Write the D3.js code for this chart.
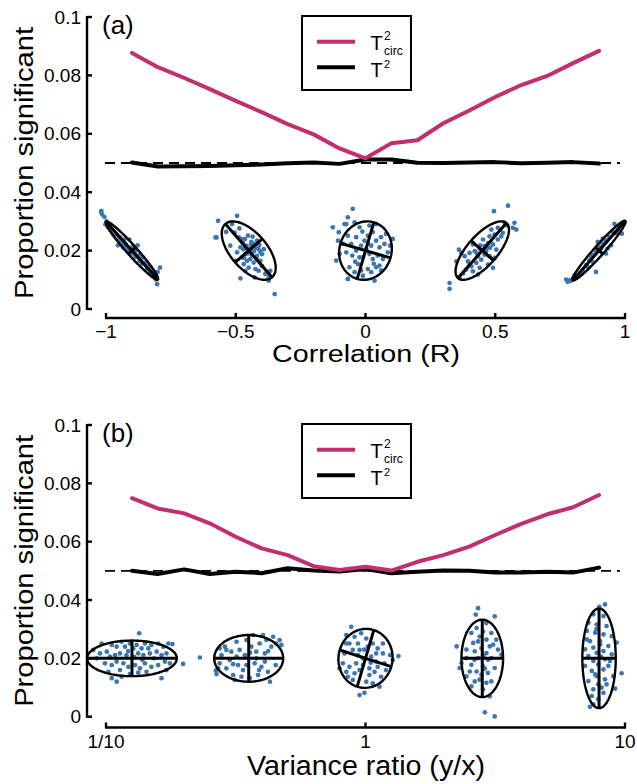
<!DOCTYPE html>
<html><head><meta charset="utf-8">
<script src="https://cdn.jsdelivr.net/npm/d3@7"></script>
<style>
body{margin:0;background:#fff}
svg{display:block}
text{font-family:"Liberation Sans",Arial,Helvetica,sans-serif;fill:#000}
</style>
</head><body>
<svg id="c" width="637" height="784"></svg>
<script>
// ---------- DATA ----------
const corrValues = [-0.9,-0.8,-0.7,-0.6,-0.5,-0.4,-0.3,-0.2,-0.1,0,0.1,0.2,0.3,0.4,0.5,0.6,0.7,0.8,0.9];
const corrTcirc  = [0.0877,0.0828,0.0792,0.0753,0.0713,0.0674,0.0633,0.0598,0.0550,0.0516,0.0568,0.0578,0.0636,0.0680,0.0726,0.0767,0.0798,0.0842,0.0884];
const corrT2     = [0.0502,0.0488,0.0489,0.0490,0.0492,0.0495,0.0499,0.0502,0.0497,0.0512,0.0512,0.0501,0.0500,0.0502,0.0503,0.0499,0.0501,0.0503,0.0498];

const ratioValues = [0.126,0.158,0.200,0.251,0.316,0.398,0.501,0.631,0.794,1,1.259,1.585,1.995,2.512,3.162,3.981,5.012,6.310,7.943];
const ratioTcirc  = [0.0749,0.0714,0.0697,0.0663,0.0617,0.0577,0.0554,0.0516,0.0503,0.0514,0.0501,0.0531,0.0554,0.0583,0.0623,0.0661,0.0694,0.0718,0.0760];
const ratioT2     = [0.0500,0.0489,0.0505,0.0489,0.0497,0.0492,0.0509,0.0501,0.0498,0.0506,0.0492,0.0497,0.0501,0.0500,0.0494,0.0494,0.0497,0.0494,0.0511];

const alphaLevel = 0.05;

const yTickValues = [0,0.02,0.04,0.06,0.08,0.1];
const yTickLabels = ["0","0.02","0.04","0.06","0.08","0.1"];
const corrTickValues = [-1,-0.5,0,0.5,1];
const corrTickLabels = ["\u22121","\u22120.5","0","0.5","1"];
const ratioTickValues = [0.1,1,10];
const ratioTickLabels = ["1/10","1","10"];

// example ellipses: centre, major & minor semi-axis vectors (data units;
// for the ratio panel the x part is in decades)
const corrEllipses = [
  {c:[-0.9,0.02],  a:[-0.1002,0.00993], b:[0.0143,0.00113]},
  {c:[-0.45,0.02], a:[-0.0898,0.00914], b:[0.0524,0.00404]},
  {c:[0,0.02],     a:[0.032,0.00969],   b:[0.0963,-0.0025]},
  {c:[0.45,0.02],  a:[0.0933,0.00942],  b:[0.0435,-0.00339]},
  {c:[0.9,0.02],   a:[0.1013,0.01017],  b:[0.0144,-0.00113]}
];
const ratioEllipses = [
  {c:[0.1259,0.02], a:[0.173,0],     b:[0,0.0061]},
  {c:[0.3548,0.02], a:[0.133,0],     b:[0,0.0080]},
  {c:[1,0.02],      a:[0.032,0.0097],b:[0.0994,-0.00285]},
  {c:[2.818,0.02],  a:[0,0.01327],   b:[0.0802,0]},
  {c:[7.943,0.02],  a:[0,0.01707],   b:[0.0644,0]}
];

// sample points: offsets from ellipse centre, [x in 0.01 units (R or decades), y in 0.001 proportion]
const corrClouds = [
 [[-11.9,13.2],[-11.5,12.4],[-10.6,11.5],[-10.2,9.0],[-9.3,8.1],[-8.4,7.2],[-7.4,6.4],[-6.3,5.3],[-5.4,1.8],[-5.1,4.1],[-4.2,3.3],[-3.5,2.6],[-2.5,2.2],[-2.0,1.3],[-1.0,3.8],[-0.7,0.7],[0.3,1.5],[1.0,-0.8],[1.6,0.1],[2.2,1.8],[2.6,-1.6],[3.5,-2.7],[4.2,-2.4],[4.8,-4.2],[5.4,-5.0],[6.2,-5.6],[7.4,-7.0],[8.3,-7.9],[8.9,-8.8],[9.9,-7.3],[10.8,-5.8],[9.7,-11.5],[9.3,-9.9],[-3.5,1.3],[-1.6,0.3],[0.1,-1.0],[2.9,-3.5],[6.7,-6.2],[-8.4,8.3],[-4.6,4.5],[1.3,-2.2],[3.9,-4.5],[7.8,-8.4],[-7.1,5.6],[-2.9,3.8],[-11.8,13.6],[-9.8,10.0],[-6.8,6.0],[-0.2,0.2],[5.8,-6.2],[7.0,-7.6]],
 [[-11.8,10.2],[-4.5,11.9],[-12.4,4.5],[-8.7,6.4],[-6.4,9.1],[-5.4,6.2],[-7.1,1.7],[-3.8,4.5],[-3.2,1.1],[-2.3,2.8],[-1.5,3.9],[-1.0,1.7],[-0.3,5.1],[0.3,0.5],[1.0,3.0],[1.9,2.2],[2.6,1.1],[3.2,3.4],[3.8,0.5],[4.1,1.9],[1.3,-0.6],[-1.3,-1.2],[-2.6,-2.3],[-0.6,-3.5],[0.6,-2.9],[1.9,-4.1],[-1.9,-4.6],[0,-5.8],[2.6,-6.3],[3.8,-6.9],[5.1,-5.2],[6.4,-8.0],[7.7,-9.2],[-3.2,-9.5],[2.3,-9.2],[10.0,-14.9],[-4.5,-0.6],[-5.1,-3.5],[5.1,-1.2],[3.2,-1.8],[4.5,-3.5],[-2.6,3.9],[1.5,4.8],[-3.6,7.6],[5.8,0.5],[-1.3,-6.9],[8.3,-6.9],[-12.8,4.5],[7.7,-10.3],[-0.8,1.0],[0.8,2.0],[2.0,-0.2],[-0.5,-1.0],[3.0,-2.8],[1.2,-1.5],[-2.0,0.5],[4.5,-0.5],[-1.8,-2.5]],
 [[-12.6,8.0],[-10.3,6.3],[-10.6,3.4],[-8.1,9.1],[-6.8,-9.7],[-6.8,11.4],[-11.3,-3.4],[-10.0,-1.1],[-8.5,2.3],[-4.9,14.3],[-7.4,9.1],[-4.2,9.7],[-2.3,8.0],[-6.8,5.1],[-5.5,2.3],[-7.4,-0.6],[-5.1,-1.7],[-6.2,-5.7],[-6.8,-9.7],[-4.2,-7.4],[-2.9,-4.6],[-1.7,-6.8],[-1.0,-8.6],[0.9,-6.3],[2.2,-7.4],[3.5,-10.3],[4.1,-5.7],[5.4,-5.1],[6.0,-6.8],[6.7,-2.9],[8.6,-0.6],[9.5,1.7],[10.5,4.0],[7.9,5.7],[6.0,4.6],[4.1,3.4],[2.8,6.3],[0.9,5.1],[-0.4,3.4],[-1.7,1.7],[0.3,0.6],[1.5,-1.1],[-1.0,-2.3],[2.8,-2.9],[4.7,-1.7],[-3.6,0],[2.2,1.7],[5.4,1.1],[7.3,2.3],[-3.6,4.6],[1.5,8.6],[4.1,9.1],[-2.3,-2.3],[-1.2,6.5],[3.2,-4.5],[-4.0,-3.8],[1.0,2.5]],
 [[9.9,15.4],[4.5,13.5],[8.6,9.5],[12.4,9.5],[13.1,7.2],[11.8,7.8],[6.0,7.8],[7.9,6.1],[4.7,5.5],[2.8,4.9],[6.0,3.8],[2.2,2.6],[4.1,2.1],[0.9,1.5],[-1.0,0.6],[-2.9,-0.2],[0.9,-1.4],[2.8,-1.9],[4.7,-2.5],[4.1,-5.9],[-0.4,-3.1],[-2.3,-4.2],[-4.2,-5.4],[-6.2,-6.5],[-3.6,-7.1],[-7.4,-7.8],[-5.5,-3.7],[-8.1,-0.8],[-9.0,0.3],[-10.0,-3.7],[-6.8,-1.9],[-1.7,-1.9],[-12.6,-11.1],[-12.6,-13.1],[-8.7,-9.4],[-1.7,-8.2],[2.2,-4.8],[0.3,3.8],[3.5,7.2],[7.3,4.9],[9.6,8.6],[-3.6,2.1],[-4.9,-0.8],[1.5,-0.2],[5.4,0.3],[-1.0,-5.9],[-0.8,1.8],[1.8,0.8],[-2.0,-1.0],[3.0,1.0],[-5.0,-5.0]],
 [[5.9,9.2],[7.8,8.3],[5.3,6.4],[8.8,5.8],[4.0,4.7],[2.7,3.5],[1.4,2.4],[-0.5,3.0],[0.8,0.7],[-1.2,-0.5],[-2.4,-1.6],[-3.7,-3.3],[-5.0,-5.0],[-6.3,-6.7],[-7.8,-8.4],[-10.1,-9.6],[-11.4,-10.2],[-12.7,-9.9],[-12.1,-10.7],[-11.0,-10.4],[-1.2,-7.3],[2.7,-1.0],[4.6,1.8],[-2.4,-3.9],[-4.4,-5.6],[7.2,7.0],[9.7,9.8],[3.3,0.7],[-6.9,-7.9],[-8.8,-9.0],[1.4,4.1],[0.1,1.3],[6.5,6.0],[-3.0,-2.0],[-9.5,-8.5]]
];
const ratioClouds = [
 [[2.8,8.6],[-11.7,5.1],[-7.8,4.6],[-5.9,4.0],[-4.0,5.7],[-2.7,4.0],[-0.8,5.1],[0.5,3.4],[1.8,4.6],[3.7,3.4],[5.0,5.1],[6.3,3.4],[7.5,4.6],[10.1,5.1],[12.1,4.0],[14.0,5.1],[15.6,4.9],[-12.3,1.7],[-13.6,0],[-9.7,2.3],[-8.5,0.6],[-6.5,1.1],[-4.6,1.7],[-2.1,1.1],[2.4,1.7],[4.4,1.1],[6.9,1.7],[9.5,2.3],[11.4,1.1],[13.3,1.7],[19.7,-1.9],[-10.4,-1.7],[-7.8,-2.3],[-5.9,-1.1],[-3.3,-1.7],[-1.4,-2.9],[1.2,-2.3],[3.1,-3.4],[5.0,-1.7],[7.5,-2.9],[10.1,-2.3],[12.7,-1.1],[14.6,-1.7],[-7.8,-6.8],[-5.9,-8.0],[-4.0,-6.3],[-0.8,-5.4],[2.4,-4.9],[11.4,-6.8],[5.6,-4.6],[-4.6,-4.0],[-9.1,-4.6],[13.3,-4.0],[-14.9,2.9],[0.8,0.5],[-1.5,2.5],[4.0,-0.5],[8.5,0.0]],
 [[-18.8,0.3],[-12.7,-4.2],[-12.4,-5.4],[-11.2,-1.7],[-10.5,1.1],[-9.2,4.0],[-8.6,-3.4],[-7.3,-0.6],[-6.7,2.3],[-6.0,-5.7],[-4.7,5.7],[-4.1,-2.3],[-3.5,2.9],[-2.2,-4.0],[-1.5,1.1],[-0.9,6.3],[1.0,4.0],[1.7,8.0],[2.3,-1.7],[2.9,2.3],[4.2,5.1],[4.9,-2.9],[5.5,8.0],[6.2,1.7],[6.8,6.3],[7.4,-4.6],[8.2,-8.0],[8.7,4.0],[9.4,7.4],[10.6,5.1],[11.9,6.3],[12.6,4.6],[10.4,-2.3],[-4.7,0.6],[2.9,0],[-8.6,2.9],[-5.4,-7.4],[0.4,-6.8],[-2.8,-6.3],[3.6,-5.7],[-0.9,-2.3],[6.2,-1.1],[-11.2,3.4],[-11.8,-3.4],[0.5,2.0],[7.5,2.5],[-6.0,-2.0],[4.0,-4.0]],
 [[-10.0,-3.4],[-8.7,-1.7],[-7.4,-4.6],[-7.4,5.1],[-8.1,1.7],[-5.5,10.8],[-7.4,8.0],[-4.2,7.4],[-1.7,8.6],[0.3,6.8],[-2.9,5.1],[-6.2,5.1],[-4.9,2.9],[-2.3,2.9],[0.9,4.0],[2.8,5.1],[4.7,3.4],[6.7,1.7],[9.5,1.1],[12.7,0.8],[10.5,-0.6],[7.3,-1.7],[4.1,-1.1],[2.2,0.6],[-1.0,0],[-3.6,-1.7],[-6.2,-2.9],[-4.2,-5.1],[-2.3,-4.0],[1.5,-3.4],[3.5,-4.6],[6.0,-6.3],[5.4,-9.7],[2.8,-8.6],[0.3,-8.0],[-0.4,-11.8],[-2.3,-12.6],[-4.9,-7.4],[-6.8,-6.3],[7.9,-4.0],[1.5,-5.7],[-1.0,-2.3],[4.7,-2.9],[-2.9,1.1],[4.1,1.7],[6.7,5.1],[-0.5,3.0],[2.0,-1.5]],
 [[-1.6,17.2],[-2.5,15.0],[4.8,14.4],[1.6,12.1],[-2.2,10.4],[-4.2,8.7],[0.3,9.2],[3.5,8.7],[5.4,6.4],[1.6,6.4],[-1.6,5.8],[-3.5,5.3],[2.9,4.1],[-0.3,3.5],[-9.9,4.1],[-6.1,3.0],[-2.9,2.4],[1.6,1.8],[6.1,3.0],[7.4,1.3],[-1.6,0.1],[2.2,-0.5],[-8.0,-1.6],[-4.2,-2.2],[0.3,-2.7],[4.8,-3.3],[-8.7,-3.3],[-2.2,-4.5],[2.2,-5.0],[-6.1,-6.2],[-1.0,-7.3],[3.5,-7.9],[-2.9,-7.9],[-4.2,-9.6],[0.3,-10.7],[2.9,-13.0],[1.0,-18.5],[4.8,-19.9],[-6.1,0.1],[3.5,0.1],[-1.0,7.5],[1.6,-8.4],[-4.8,-4.5],[-0.3,-5.6],[4.2,4.7],[0.5,0.8],[-3.0,-0.5],[1.0,-3.5]],
 [[2.3,18.5],[0.1,17.7],[-2.2,15.1],[1.7,14.5],[-4.1,12.2],[-0.9,11.6],[2.9,11.1],[-4.7,9.4],[-1.5,8.8],[1.7,8.2],[4.9,7.6],[6.8,5.4],[-3.5,5.9],[0.4,5.9],[3.6,4.2],[-2.2,3.7],[-5.4,3.1],[1.7,2.5],[-0.9,1.9],[4.9,1.4],[-4.1,0.8],[2.3,-0.3],[-2.2,-0.9],[-0.3,-2.1],[-5.4,-2.6],[3.6,-2.6],[1.7,-3.8],[-2.8,-4.3],[8.7,-5.1],[5.5,-6.1],[-0.9,-6.1],[2.3,-7.2],[-4.1,-7.8],[-0.3,-8.9],[6.2,-10.4],[-2.2,-10.6],[1.7,-11.8],[-2.8,-12.9],[-0.3,-14.0],[-2.2,-15.8],[-3.5,-16.6],[0.4,4.8],[-1.5,-5.5],[2.9,-8.9],[-4.7,6.5],[4.2,-0.9],[0.8,0.5],[-1.0,10.0],[1.0,-10.0]]
];

// ---------- DRAWING ----------
const svg = d3.select("#c");
const PINK = "#c0306e", DOT = "#3b76b0";
const FONT_TICK = 19;

function panel(cfg){
  const g = svg.append("g");
  const y = d3.scaleLinear().domain([0,0.1]).range([cfg.y0, cfg.y1]);
  const x = cfg.x;
  const axisX = 87, axisY = cfg.axisY;

  // dashed reference line
  g.append("line")
    .attr("x1", x(cfg.xDomain[0]) - 1).attr("x2", x(cfg.xDomain[1]) - 5)
    .attr("y1", y(alphaLevel)).attr("y2", y(alphaLevel))
    .attr("stroke","#000").attr("stroke-width",1.8).attr("stroke-dasharray","10,6");

  // scatter clouds
  cfg.ellipses.forEach((e,i)=>{
    g.append("g").selectAll("circle").data(cfg.clouds[i]).join("circle")
      .attr("cx", d => x(cfg.shiftX(e.c[0], d[0]*0.01)))
      .attr("cy", d => y(e.c[1] + d[1]*0.001))
      .attr("r", 2.35).attr("fill", DOT);
  });
  // ellipses
  cfg.ellipses.forEach(e=>{
    const cx = x(e.c[0]), cy = y(e.c[1]);
    const A = [x(cfg.shiftX(e.c[0], e.a[0])) - cx, y(e.c[1]+e.a[1]) - cy];
    const B = [x(cfg.shiftX(e.c[0], e.b[0])) - cx, y(e.c[1]+e.b[1]) - cy];
    const pts = d3.range(0,97).map(k=>{const t=k/96*2*Math.PI;
      return [cx + A[0]*Math.cos(t) + B[0]*Math.sin(t), cy + A[1]*Math.cos(t) + B[1]*Math.sin(t)];});
    g.append("path").attr("d", d3.line()(pts)).attr("fill","none")
      .attr("stroke","#000").attr("stroke-width",2.4);
    [A,B].forEach(V=>{
      g.append("line").attr("x1",cx-V[0]).attr("y1",cy-V[1]).attr("x2",cx+V[0]).attr("y2",cy+V[1])
        .attr("stroke","#000").attr("stroke-width",3);
    });
  });

  // series lines
  const line = d3.line().x(d=>x(d[0])).y(d=>y(d[1]));
  g.append("path").datum(cfg.xs.map((v,i)=>[v,cfg.t2[i]])).attr("d",line)
    .attr("fill","none").attr("stroke","#000").attr("stroke-width",4)
    .attr("stroke-linejoin","round").attr("stroke-linecap","round");
  g.append("path").datum(cfg.xs.map((v,i)=>[v,cfg.tcirc[i]])).attr("d",line)
    .attr("fill","none").attr("stroke",PINK).attr("stroke-width",4)
    .attr("stroke-linejoin","round").attr("stroke-linecap","round");

  // y axis
  g.append("line").attr("x1",axisX).attr("x2",axisX).attr("y1",y(0.1)-1).attr("y2",y(0)+1)
    .attr("stroke","#000").attr("stroke-width",2.4);
  yTickValues.forEach((v,i)=>{
    g.append("line").attr("x1",axisX).attr("x2",axisX+5).attr("y1",y(v)).attr("y2",y(v))
      .attr("stroke","#000").attr("stroke-width",2.4);
    g.append("text").attr("x",81).attr("y",y(v)+6.5).attr("text-anchor","end")
      .attr("font-size",FONT_TICK).text(yTickLabels[i]);
  });
  // x axis
  g.append("line").attr("x1",x(cfg.xDomain[0])-1).attr("x2",x(cfg.xDomain[1])+1).attr("y1",axisY).attr("y2",axisY)
    .attr("stroke","#000").attr("stroke-width",2.4);
  cfg.xTicks.forEach((v,i)=>{
    g.append("line").attr("x1",x(v)).attr("x2",x(v)).attr("y1",axisY).attr("y2",axisY-5)
      .attr("stroke","#000").attr("stroke-width",2.4);
    g.append("text").attr("x",x(v)).attr("y",axisY+20).attr("text-anchor","middle")
      .attr("font-size",FONT_TICK).text(cfg.xTickLabels[i]);
  });
  // axis titles
  g.append("text").attr("x",366).attr("y",cfg.xTitleY).attr("text-anchor","middle")
    .attr("font-size",cfg.xTitleSize).attr("textLength",cfg.xTitleLen).attr("lengthAdjust","spacingAndGlyphs")
    .text(cfg.xTitle);
  const ym = (y(0)+y(0.1))/2;
  g.append("text").attr("transform",`translate(33,${ym}) rotate(-90)`).attr("text-anchor","middle")
    .attr("font-size",25).attr("textLength",272).attr("lengthAdjust","spacingAndGlyphs")
    .text("Proportion significant");
  // panel letter
  g.append("text").attr("x",102).attr("y",y(0.1)+17).attr("font-size",26).text(cfg.letter);

  // legend
  const ly = y(0.1);
  g.append("rect").attr("x",302).attr("y",ly-1).attr("width",109).attr("height",74)
    .attr("fill","#fff").attr("stroke","#000").attr("stroke-width",2);
  g.append("line").attr("x1",317).attr("x2",355).attr("y1",ly+24.7).attr("y2",ly+24.7)
    .attr("stroke",PINK).attr("stroke-width",4);
  g.append("line").attr("x1",317).attr("x2",355).attr("y1",ly+50.3).attr("y2",ly+50.3)
    .attr("stroke","#000").attr("stroke-width",4);
  g.append("text").attr("x",370.5).attr("y",ly+33).attr("font-size",20).text("T");
  g.append("text").attr("x",384).attr("y",ly+22.5).attr("font-size",12).text("2");
  g.append("text").attr("x",384).attr("y",ly+37.5).attr("font-size",12).text("circ");
  g.append("text").attr("x",370.5).attr("y",ly+60.3).attr("font-size",20).text("T");
  g.append("text").attr("x",384).attr("y",ly+50.5).attr("font-size",11).text("2");
}

const xa = d3.scaleLinear().domain([-1,1]).range([106,625]);
panel({
  x: xa, xDomain:[-1,1], y0:309, y1:17, axisY:318,
  xs: corrValues, tcirc: corrTcirc, t2: corrT2,
  xTicks: corrTickValues, xTickLabels: corrTickLabels,
  ellipses: corrEllipses, clouds: corrClouds,
  shiftX: (c,d)=> c + d,
  xTitle:"Correlation (R)", xTitleY:362, xTitleSize:23, xTitleLen:188, letter:"(a)"
});
const xb = d3.scaleLog().domain([0.1,10]).range([106,625]);
panel({
  x: xb, xDomain:[0.1,10], y0:716.7, y1:425, axisY:727.5,
  xs: ratioValues, tcirc: ratioTcirc, t2: ratioT2,
  xTicks: ratioTickValues, xTickLabels: ratioTickLabels,
  ellipses: ratioEllipses, clouds: ratioClouds,
  shiftX: (c,d)=> c * Math.pow(10,d),
  xTitle:"Variance ratio (y/x)", xTitleY:775, xTitleSize:27, xTitleLen:238, letter:"(b)"
});
</script>
</body></html>
